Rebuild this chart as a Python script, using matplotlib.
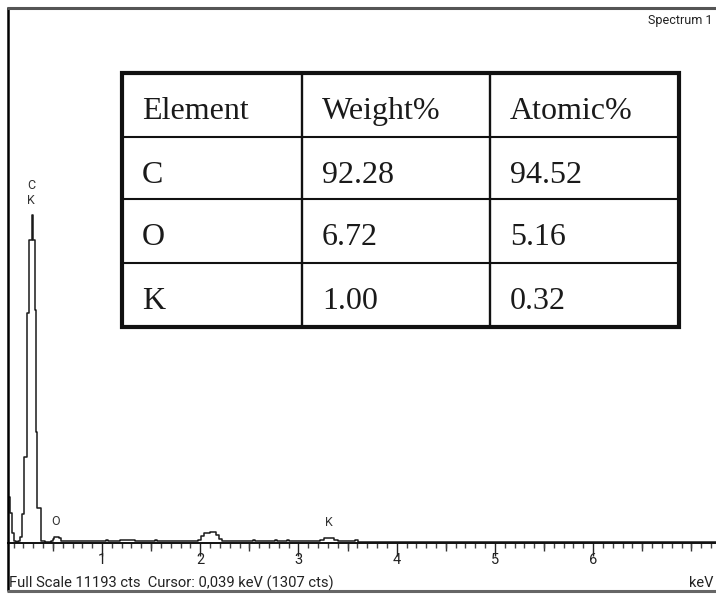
import matplotlib
matplotlib.use("Agg")
import matplotlib.pyplot as plt
from matplotlib.ticker import MultipleLocator
from matplotlib.transforms import offset_copy

# ---------------- spectrum data (keV, counts; step breakpoints) ----------------
energy_kev = [0.000, 0.045, 0.065, 0.085, 0.105, 0.125, 0.145, 0.160, 0.182,
              0.210, 0.233, 0.260, 0.284, 0.300, 0.314, 0.327, 0.340, 0.375,
              0.420, 0.480, 0.500, 0.515, 0.560, 0.585, 0.620, 0.800, 1.040,
              1.060, 1.180, 1.220, 1.260, 1.300, 1.340, 1.540, 1.560, 1.980,
              2.010, 2.040, 2.100, 2.160, 2.190, 2.220, 2.540, 2.560, 2.760,
              2.780, 2.880, 2.900, 3.220, 3.260, 3.300, 3.360, 3.400, 3.580,
              3.610, 4.000, 5.000, 6.000, 7.300]
counts = [1307, 960, 630, 200, 40, 20, 40, 120, 600,
          1800, 4810, 6340, 6860, 6340, 4870, 2320, 730, 40,
          30, 45, 90, 130, 100, 45, 35, 40, 65,
          35, 55, 70, 55, 65, 35, 60, 35, 70,
          140, 200, 220, 170, 90, 40, 60, 35, 60,
          35, 55, 35, 60, 100, 110, 70, 35, 55,
          30, 30, 25, 22, 20]
full_scale = 11193

# element line markers: symbol, energy (keV), label height (counts)
peak_labels = ["C\nK", "O", "K"]
peak_energy = [0.277, 0.525, 3.312]
peak_height = [6860, 130, 110]

# tick labels
tick_values = [1, 2, 3, 4, 5, 6]
half_ticks = [0.5, 1.5, 2.5, 3.5, 4.5, 5.5, 6.5, 7.0]

# quantification table
table_header = ["Element", "Weight%", "Atomic%"]
elements = ["C", "O", "K"]
weight_pct = [92.28, 6.72, 1.00]
atomic_pct = [94.52, 5.16, 0.32]

status_text = "Full Scale 11193 cts  Cursor: 0,039 keV (1307 cts)"

W, H = 716, 596
fig = plt.figure(figsize=(W / 100, H / 100), dpi=100)
fig.patch.set_facecolor("white")

small_font = ["Roboto", "DejaVu Sans"]
ink = "#222222"

# ---------------- spectrum axes ----------------
ax = fig.add_axes([8 / W, 1 - 543 / H, 1 - 8 / W, (543 - 8) / H])
ax.step(energy_kev, counts, where="post", color="#1a1a1a", lw=1.1)
ax.set_xlim(0.0428, 7.251)
ax.set_ylim(0, full_scale)
for side in ("left", "right", "top"):
    ax.spines[side].set_visible(False)
ax.spines["bottom"].set_linewidth(1.4)
ax.spines["bottom"].set_color("#111111")
ax.set_yticks([])
ax.set_xticks(tick_values)
ax.set_xticklabels([str(v) for v in tick_values], family=small_font,
                   fontsize=10.5, color=ink)
ax.xaxis.set_minor_locator(MultipleLocator(0.1))
ax.tick_params(axis="x", which="major", length=9, width=1.0, pad=-1.5,
               color="#222222")
ax.tick_params(axis="x", which="minor", length=3.5, width=1.0,
               color="#444444")
ax.patch.set_alpha(0)

sec = ax.secondary_xaxis("bottom")
sec.set_xticks(half_ticks)
sec.tick_params(length=5.5, width=1.0, labelbottom=False, color="#333333")
sec.spines["bottom"].set_visible(False)

for lab, e, h in zip(peak_labels, peak_energy, peak_height):
    tr = offset_copy(ax.transData, fig=fig, x=0, y=6, units="points")
    ax.text(e, h, lab, transform=tr, ha="center", va="bottom",
            family=small_font, fontsize=9, color="#333333",
            linespacing=1.2)

# ---------------- frame, status line and table (pixel overlay) ----------------
ov = fig.add_axes([0, 0, 1, 1], zorder=5)
ov.set_xlim(0, W)
ov.set_ylim(H, 0)
ov.axis("off")
ov.patch.set_alpha(0)

ov.plot([8, 8], [7, 591], color="black", lw=1.8, solid_capstyle="butt")
ov.plot([7, W], [8, 8], color="#555555", lw=2.2, solid_capstyle="butt")
ov.plot([7, W], [591, 591], color="#666666", lw=2.2, solid_capstyle="butt")

ov.text(713, 24, "Spectrum 1", family=small_font, fontsize=9,
        color=ink, ha="right", va="baseline")
ov.text(9, 588, status_text, family=small_font, fontsize=10.6,
        color=ink, ha="left", va="baseline")
ov.text(714, 587, "keV", family=small_font, fontsize=10.5,
        color=ink, ha="right", va="baseline")

col_x = [122, 302, 490, 679]
row_y = [73, 137, 199, 263, 327]
ov.add_patch(plt.Rectangle((col_x[0], row_y[0]), col_x[-1] - col_x[0],
                           row_y[-1] - row_y[0], facecolor="white",
                           edgecolor="none", zorder=1))
for x in col_x[1:-1]:
    ov.plot([x, x], [row_y[0], row_y[-1]], color="#111111", lw=1.7, zorder=2)
for y in row_y[1:-1]:
    ov.plot([col_x[0], col_x[-1]], [y, y], color="#111111", lw=1.5, zorder=2)
ov.add_patch(plt.Rectangle((col_x[0], row_y[0]), col_x[-1] - col_x[0],
                           row_y[-1] - row_y[0], facecolor="none",
                           edgecolor="#111111", lw=3.0, zorder=3))

rows = [table_header] + [[el, f"{w:.2f}", f"{a:.2f}"]
                         for el, w, a in zip(elements, weight_pct, atomic_pct)]
for r, row in enumerate(rows):
    for c, cell in enumerate(row):
        ov.text(col_x[c] + 20, row_y[r] + 46, cell, family="Liberation Serif",
                fontsize=23, color="#1a1a1a", ha="left", va="baseline",
                zorder=4)

fig.savefig("out.png", dpi=100, facecolor="white")
